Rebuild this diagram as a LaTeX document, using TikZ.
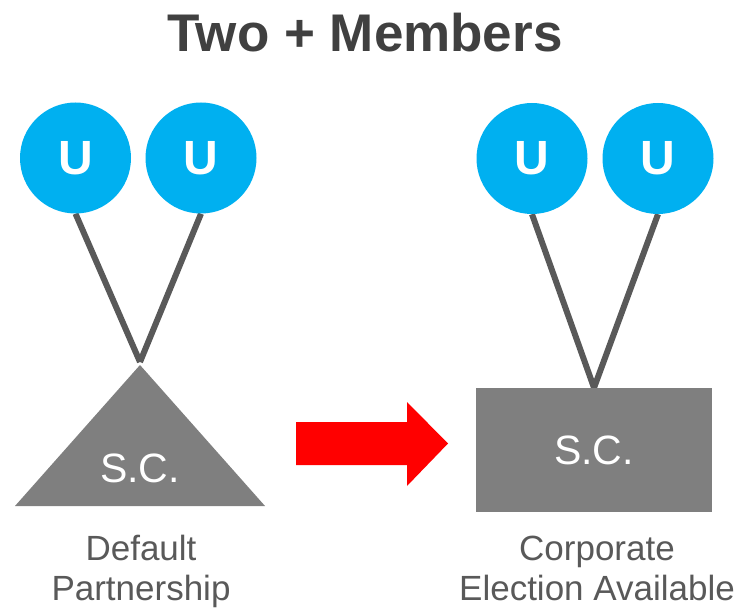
\documentclass[tikz,border=0pt]{standalone}
\usepackage{fontspec}
\setmainfont{Liberation Sans}
\usetikzlibrary{backgrounds}
\definecolor{member}{HTML}{00B0F0}
\definecolor{entity}{HTML}{7F7F7F}
\definecolor{link}{HTML}{595959}
\definecolor{caption}{HTML}{595959}
\definecolor{heading}{HTML}{404040}
\tikzset{
  member/.style={circle, fill=member, minimum size=111pt, inner sep=0pt,
    text=white, font=\fontsize{48}{48}\selectfont\bfseries},
  tie/.style={draw=link, line width=6pt},
  entitylabel/.style={text=white, font=\fontsize{41}{41}\selectfont},
  captionlabel/.style={text=caption, align=center,
    font=\fontsize{35}{40}\selectfont},
}
\begin{document}
\begin{tikzpicture}[x=1pt, y=-1pt]
  \useasboundingbox (0,0) rectangle (744,609);

  % heading
  \node[text=heading, font=\fontsize{53}{53}\selectfont\bfseries, anchor=base]
    (title) at (365,52) {Two + Members};

  % left side: default partnership
  \node[member] (u1) at (75.5,158) {U};
  \node[member] (u2) at (201,158) {U};
  \coordinate (apexL) at (140,362);
  \fill[entity] (140,365) -- (265,506) -- (15,506) -- cycle;
  \node[entitylabel, anchor=base] (scL) at (140,482) {S.C.};
  \begin{scope}[on background layer]
    \draw[tie] (u1.south) -- (apexL);
    \draw[tie] (u2.south) -- (apexL);
  \end{scope}
  \node[captionlabel, anchor=base] (capL) at (141,600) {Default\\Partnership};

  % arrow
  \fill[red] (296,422) -- (407,422) -- (407,402) -- (448,443.5)
    -- (407,486) -- (407,465) -- (296,465) -- cycle;

  % right side: corporate election
  \node[member] (u3) at (532,158.5) {U};
  \node[member] (u4) at (658,158.5) {U};
  \node[fill=entity, minimum width=236pt, minimum height=124pt, inner sep=0pt,
    entitylabel] (rect) at (594,450) {S.C.};
  \begin{scope}[on background layer]
    \draw[tie] (u3.south) -- (rect.north);
    \draw[tie] (u4.south) -- (rect.north);
  \end{scope}
  \node[captionlabel, anchor=base] (capR) at (597,600) {Corporate\\Election Available};
\end{tikzpicture}
\end{document}
